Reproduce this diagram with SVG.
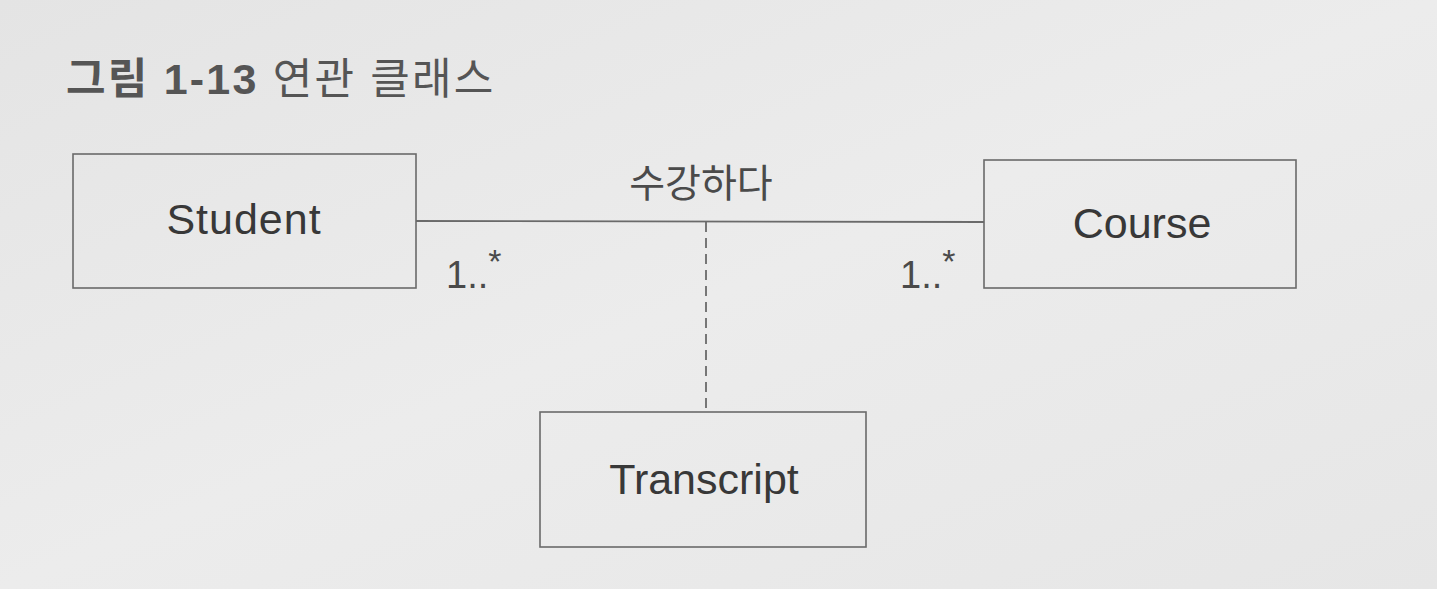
<svg xmlns="http://www.w3.org/2000/svg" width="1437" height="589" viewBox="0 0 1437 589">
<defs>
<linearGradient id="bg" x1="0" y1="0" x2="1" y2="1">
<stop offset="0" stop-color="#e4e4e4"/>
<stop offset="0.5" stop-color="#ececec"/>
<stop offset="1" stop-color="#e6e6e6"/>
</linearGradient>
</defs>
<style>
.box{fill:none;stroke:#6a6a6a;stroke-width:1.6}
.lbl{font-family:"Liberation Sans","Noto Sans",Arial,sans-serif;font-size:43px;fill:#383838;text-anchor:middle}
.kr{font-family:"Liberation Sans","Noto Sans CJK KR",sans-serif;fill:#4a4a4a}
.mult{font-family:"Liberation Sans",Arial,sans-serif;font-size:38px;fill:#4a4a4a}
.conn{stroke:#6a6a6a;stroke-width:1.8;fill:none}
</style>
<rect width="1437" height="589" fill="url(#bg)"/>
<text x="66" y="94" class="kr" font-size="43" letter-spacing="2.2"><tspan font-weight="bold" fill="#555">그림 1-13</tspan> <tspan fill="#555">연관 클래스</tspan></text>
<g id="connectors">
<line class="conn" x1="416" y1="221" x2="984" y2="222"/>
<line class="conn" x1="706" y1="222" x2="706" y2="412" stroke-dasharray="10,6"/>
<text class="kr" x="701" y="197" font-size="39" text-anchor="middle">수강하다</text>
<text class="mult" x="446" y="288">1..<tspan font-size="34" dy="-15">*</tspan></text>
<text class="mult" x="900" y="288">1..<tspan font-size="34" dy="-15">*</tspan></text>
</g>
<g id="student">
<rect class="box" x="73" y="154" width="343" height="134"/>
<text class="lbl" x="244" y="234" letter-spacing="1">Student</text>
</g>
<g id="course">
<rect class="box" x="984" y="160" width="312" height="128"/>
<text class="lbl" x="1142" y="238">Course</text>
</g>
<g id="transcript">
<rect class="box" x="540" y="412" width="326" height="135"/>
<text class="lbl" x="704" y="494">Transcript</text>
</g>
</svg>
